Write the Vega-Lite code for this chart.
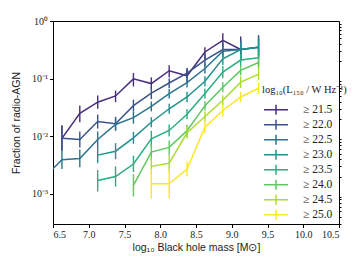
{
  "$schema": "https://vega.github.io/schema/vega-lite/v6.json",
  "width": 286,
  "height": 203,
  "autosize": "none",
  "padding": {"left": 53, "top": 21, "right": 18, "bottom": 40},
  "background": "white",
  "config": {
    "view": {"stroke": "black", "strokeWidth": 1},
    "axis": {"labelFont": "Liberation Serif", "labelFontSize": 10, "labelColor": "#222", "titleFont": "Liberation Sans", "titleFontSize": 10.5, "titleFontWeight": "normal", "titleColor": "#222", "tickColor": "black", "domain": false, "grid": false}
  },
  "data": {"values": [
    {"t":"≥ 21.5","m":6.625,"f":0.0092,"lo":0.0056,"hi":0.0153},
    {"t":"≥ 21.5","m":6.875,"f":0.025,"lo":0.0175,"hi":0.034},
    {"t":"≥ 21.5","m":7.125,"f":0.039,"lo":0.030,"hi":0.051},
    {"t":"≥ 21.5","m":7.375,"f":0.050,"lo":0.039,"hi":0.062},
    {"t":"≥ 21.5","m":7.625,"f":0.099,"lo":0.073,"hi":0.125},
    {"t":"≥ 21.5","m":7.875,"f":0.082,"lo":0.065,"hi":0.105},
    {"t":"≥ 21.5","m":8.125,"f":0.137,"lo":0.106,"hi":0.17},
    {"t":"≥ 21.5","m":8.375,"f":0.112,"lo":0.087,"hi":0.15},
    {"t":"≥ 21.5","m":8.625,"f":0.29,"lo":0.22,"hi":0.35},
    {"t":"≥ 21.5","m":8.875,"f":0.46,"lo":0.35,"hi":0.61},
    {"t":"≥ 21.5","m":9.125,"f":0.32,"lo":0.21,"hi":0.54},
    {"t":"≥ 22.0","m":6.625,"f":0.0092,"lo":0.0056,"hi":0.0153},
    {"t":"≥ 22.0","m":6.875,"f":0.0088,"lo":0.0064,"hi":0.0121},
    {"t":"≥ 22.0","m":7.125,"f":0.018,"lo":0.0136,"hi":0.0238},
    {"t":"≥ 22.0","m":7.375,"f":0.0165,"lo":0.0125,"hi":0.0218},
    {"t":"≥ 22.0","m":7.625,"f":0.034,"lo":0.0268,"hi":0.0432},
    {"t":"≥ 22.0","m":7.875,"f":0.056,"lo":0.0441,"hi":0.0711},
    {"t":"≥ 22.0","m":8.125,"f":0.084,"lo":0.0689,"hi":0.102},
    {"t":"≥ 22.0","m":8.375,"f":0.125,"lo":0.102,"hi":0.153},
    {"t":"≥ 22.0","m":8.625,"f":0.21,"lo":0.165,"hi":0.267},
    {"t":"≥ 22.0","m":8.875,"f":0.32,"lo":0.242,"hi":0.42},
    {"t":"≥ 22.0","m":9.125,"f":0.32,"lo":0.215,"hi":0.48},
    {"t":"≥ 22.0","m":9.375,"f":0.35,"lo":0.216,"hi":0.57},
    {"t":"≥ 22.5","m":6.375,"f":0.0019,"lo":0.0012,"hi":0.0030},
    {"t":"≥ 22.5","m":6.625,"f":0.0039,"lo":0.0027,"hi":0.0056},
    {"t":"≥ 22.5","m":6.875,"f":0.0041,"lo":0.0029,"hi":0.0059},
    {"t":"≥ 22.5","m":7.125,"f":0.0088,"lo":0.0064,"hi":0.0121},
    {"t":"≥ 22.5","m":7.375,"f":0.016,"lo":0.0126,"hi":0.0203},
    {"t":"≥ 22.5","m":7.625,"f":0.021,"lo":0.0165,"hi":0.0267},
    {"t":"≥ 22.5","m":7.875,"f":0.033,"lo":0.027,"hi":0.040},
    {"t":"≥ 22.5","m":8.125,"f":0.055,"lo":0.045,"hi":0.067},
    {"t":"≥ 22.5","m":8.375,"f":0.085,"lo":0.070,"hi":0.104},
    {"t":"≥ 22.5","m":8.625,"f":0.15,"lo":0.123,"hi":0.183},
    {"t":"≥ 22.5","m":8.875,"f":0.30,"lo":0.236,"hi":0.381},
    {"t":"≥ 22.5","m":9.125,"f":0.32,"lo":0.232,"hi":0.44},
    {"t":"≥ 22.5","m":9.375,"f":0.35,"lo":0.235,"hi":0.52},
    {"t":"≥ 23.0","m":7.125,"f":0.0047,"lo":0.0034,"hi":0.0065},
    {"t":"≥ 23.0","m":7.375,"f":0.0055,"lo":0.0040,"hi":0.0076},
    {"t":"≥ 23.0","m":7.625,"f":0.0094,"lo":0.0074,"hi":0.0119},
    {"t":"≥ 23.0","m":7.875,"f":0.0175,"lo":0.0143,"hi":0.0214},
    {"t":"≥ 23.0","m":8.125,"f":0.030,"lo":0.0246,"hi":0.0366},
    {"t":"≥ 23.0","m":8.375,"f":0.048,"lo":0.039,"hi":0.059},
    {"t":"≥ 23.0","m":8.625,"f":0.09,"lo":0.074,"hi":0.110},
    {"t":"≥ 23.0","m":8.875,"f":0.22,"lo":0.173,"hi":0.28},
    {"t":"≥ 23.0","m":9.125,"f":0.32,"lo":0.242,"hi":0.42},
    {"t":"≥ 23.0","m":9.375,"f":0.35,"lo":0.25,"hi":0.49},
    {"t":"≥ 23.5","m":7.125,"f":0.0017,"lo":0.0011,"hi":0.0026},
    {"t":"≥ 23.5","m":7.375,"f":0.0020,"lo":0.00134,"hi":0.0030},
    {"t":"≥ 23.5","m":7.625,"f":0.0033,"lo":0.0024,"hi":0.0046},
    {"t":"≥ 23.5","m":7.875,"f":0.0090,"lo":0.0065,"hi":0.0124},
    {"t":"≥ 23.5","m":8.125,"f":0.0126,"lo":0.0099,"hi":0.016},
    {"t":"≥ 23.5","m":8.375,"f":0.024,"lo":0.0197,"hi":0.0293},
    {"t":"≥ 23.5","m":8.625,"f":0.055,"lo":0.045,"hi":0.067},
    {"t":"≥ 23.5","m":8.875,"f":0.13,"lo":0.102,"hi":0.165},
    {"t":"≥ 23.5","m":9.125,"f":0.21,"lo":0.165,"hi":0.267},
    {"t":"≥ 23.5","m":9.375,"f":0.23,"lo":0.167,"hi":0.317},
    {"t":"≥ 24.0","m":7.625,"f":0.0014,"lo":0.0009,"hi":0.0022},
    {"t":"≥ 24.0","m":7.875,"f":0.0053,"lo":0.0038,"hi":0.0073},
    {"t":"≥ 24.0","m":8.125,"f":0.0064,"lo":0.0048,"hi":0.0084},
    {"t":"≥ 24.0","m":8.375,"f":0.0125,"lo":0.0098,"hi":0.0159},
    {"t":"≥ 24.0","m":8.625,"f":0.034,"lo":0.028,"hi":0.041},
    {"t":"≥ 24.0","m":8.875,"f":0.071,"lo":0.058,"hi":0.087},
    {"t":"≥ 24.0","m":9.125,"f":0.139,"lo":0.114,"hi":0.17},
    {"t":"≥ 24.0","m":9.375,"f":0.19,"lo":0.15,"hi":0.24},
    {"t":"≥ 24.5","m":7.875,"f":0.0030,"lo":0.0021,"hi":0.0043},
    {"t":"≥ 24.5","m":8.125,"f":0.0034,"lo":0.0024,"hi":0.0049},
    {"t":"≥ 24.5","m":8.375,"f":0.0115,"lo":0.0091,"hi":0.0146},
    {"t":"≥ 24.5","m":8.625,"f":0.022,"lo":0.018,"hi":0.027},
    {"t":"≥ 24.5","m":8.875,"f":0.042,"lo":0.034,"hi":0.051},
    {"t":"≥ 24.5","m":9.125,"f":0.087,"lo":0.069,"hi":0.11},
    {"t":"≥ 24.5","m":9.375,"f":0.12,"lo":0.095,"hi":0.152},
    {"t":"≥ 25.0","m":7.875,"f":0.0015,"lo":0.00082,"hi":0.0027},
    {"t":"≥ 25.0","m":8.125,"f":0.0015,"lo":0.00082,"hi":0.0027},
    {"t":"≥ 25.0","m":8.375,"f":0.0027,"lo":0.0020,"hi":0.0037},
    {"t":"≥ 25.0","m":8.625,"f":0.0144,"lo":0.0113,"hi":0.0183},
    {"t":"≥ 25.0","m":8.875,"f":0.028,"lo":0.022,"hi":0.0356},
    {"t":"≥ 25.0","m":9.125,"f":0.048,"lo":0.039,"hi":0.059},
    {"t":"≥ 25.0","m":9.375,"f":0.068,"lo":0.054,"hi":0.086}
  ]},
  "encoding": {
    "x": {"field": "m", "type": "quantitative", "scale": {"domain": [6.5, 10.5], "nice": false, "zero": false},
      "axis": {"values": [6.5, 7, 7.5, 8, 8.5, 9, 9.5, 10, 10.5], "format": ".1f", "tickSize": 3.5, "labelPadding": 2, "title": "log₁₀ Black hole mass [M⊙]", "titlePadding": 3}},
    "color": {"field": "t", "type": "nominal",
      "scale": {"domain": ["≥ 21.5", "≥ 22.0", "≥ 22.5", "≥ 23.0", "≥ 23.5", "≥ 24.0", "≥ 24.5", "≥ 25.0"],
        "range": ["#472d7b", "#3b528b", "#2c728e", "#21918c", "#28ae80", "#5ec962", "#addc30", "#fde725"]},
      "legend": {"orient": "none", "legendX": 209, "legendY": 64, "padding": 0,
        "title": "log₁₀(L₁₅₀ / W Hz⁻¹)", "titleFont": "Liberation Serif", "titleFontSize": 10.5, "titleFontWeight": "normal", "titleColor": "#222", "titlePadding": 7,
        "symbolType": "M-2.4,0L2.4,0M0,-1L0,1", "symbolSize": 100, "symbolStrokeWidth": 1.5, "symbolFillColor": "transparent", "symbolOffset": 8,
        "labelFont": "Liberation Serif", "labelFontSize": 11.5, "labelColor": "#222", "labelOffset": 21, "rowPadding": 0, "clipHeight": 14.3}}
  },
  "layer": [
    {"mark": {"type": "line", "strokeWidth": 1.5, "clip": true},
     "encoding": {"y": {"field": "f", "type": "quantitative", "scale": {"type": "log", "domain": [0.0003, 1], "nice": false},
        "axis": {"values": [0.001, 0.01, 0.1, 1], "tickSize": 3.5, "labelPadding": 2,
          "labelExpr": "datum.value >= 0.5 ? '10⁰' : datum.value >= 0.05 ? '10⁻¹' : datum.value >= 0.005 ? '10⁻²' : '10⁻³'",
          "title": "Fraction of radio-AGN", "titlePadding": 10}}}},
    {"mark": {"type": "rule", "strokeWidth": 1.4, "clip": true},
     "encoding": {"y": {"field": "lo", "type": "quantitative",
        "axis": {"values": [0.0003, 0.0004, 0.0005, 0.0006, 0.0007, 0.0008, 0.0009, 0.002, 0.003, 0.004, 0.005, 0.006, 0.007, 0.008, 0.009, 0.02, 0.03, 0.04, 0.05, 0.06, 0.07, 0.08, 0.09, 0.2, 0.3, 0.4, 0.5, 0.6, 0.7, 0.8, 0.9], "tickSize": 2, "labels": false, "title": null}},
       "y2": {"field": "hi"}}}
  ],
  "resolve": {"axis": {"y": "independent"}}
}
